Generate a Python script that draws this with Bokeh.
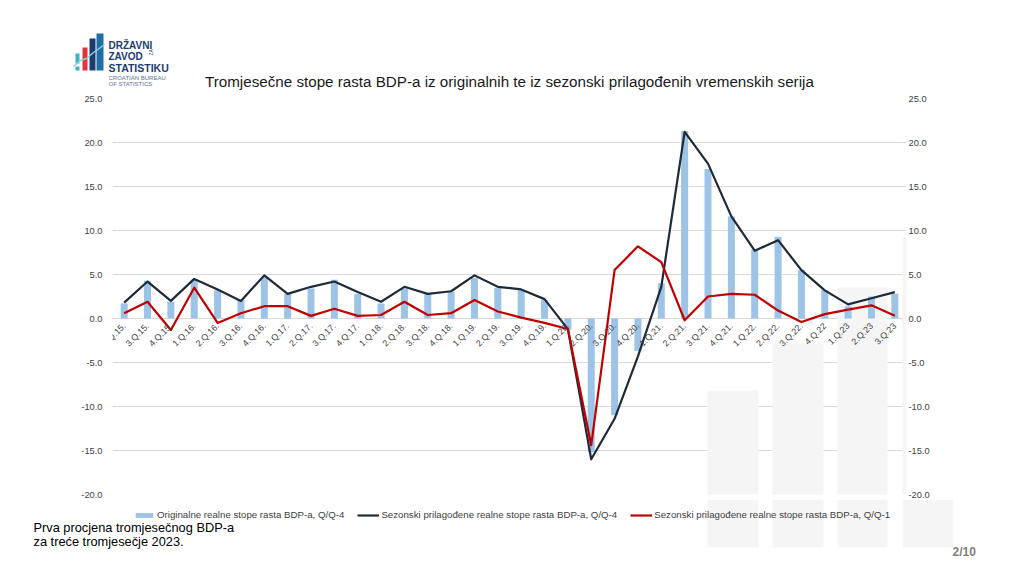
import math
from bokeh.plotting import figure
from bokeh.layouts import column
from bokeh.models import (FactorRange, Range1d, LinearAxis, FixedTicker, PrintfTickFormatter,
                          Legend, LegendItem, BoxAnnotation, ColumnDataSource)
from bokeh.core.properties import value
from bokeh.embed import file_html
from bokeh.resources import INLINE

# ---------------- data ----------------
quarters = ["2.Q.15.", "3.Q.15.", "4.Q.15.", "1.Q.16.", "2.Q.16.", "3.Q.16.", "4.Q.16.",
            "1.Q.17.", "2.Q.17.", "3.Q.17.", "4.Q.17.", "1.Q.18.", "2.Q.18.", "3.Q.18.",
            "4.Q.18.", "1.Q.19.", "2.Q.19.", "3.Q.19.", "4.Q.19.", "1.Q.20.", "2.Q.20.",
            "3.Q.20.", "4.Q.20.", "1.Q.21.", "2.Q.21.", "3.Q.21.", "4.Q.21.", "1.Q.22.",
            "2.Q.22.", "3.Q.22.", "4.Q.22", "1.Q.23", "2.Q.23", "3.Q.23"]

original_yoy = [1.7, 4.3, 1.9, 4.4, 3.2, 2.1, 4.7, 2.8, 3.4, 4.4, 2.8, 1.7, 3.4, 2.8, 3.0,
                4.6, 3.5, 3.2, 2.1, -1.3, -15.2, -11.0, -3.7, 4.0, 21.3, 17.0, 11.6, 7.8,
                9.3, 5.5, 3.2, 1.4, 2.5, 2.8]

sa_yoy = [1.8, 4.2, 2.0, 4.5, 3.3, 2.0, 4.9, 2.8, 3.6, 4.2, 3.0, 1.9, 3.6, 2.8, 3.1,
          4.9, 3.6, 3.3, 2.2, -1.2, -16.0, -11.4, -4.3, 3.6, 21.2, 17.6, 11.6, 7.7,
          8.9, 5.5, 3.2, 1.6, 2.3, 3.0]

sa_qoq = [0.6, 1.9, -1.3, 3.5, -0.5, 0.6, 1.4, 1.4, 0.3, 1.1, 0.3, 0.4, 1.9, 0.4, 0.6,
          2.1, 0.8, 0.1, -0.5, -1.2, -14.4, 5.5, 8.2, 6.4, -0.2, 2.5, 2.8, 2.7,
          0.9, -0.4, 0.5, 1.0, 1.5, 0.3]

y_ticks = [-20, -15, -10, -5, 0, 5, 10, 15, 20, 25]

title_text = "Tromjesečne stope rasta BDP-a iz  originalnih te iz sezonski prilagođenih vremenskih serija"
legend_labels = ["Originalne realne stope rasta BDP-a, Q/Q-4",
                 "Sezonski prilagođene realne stope rasta BDP-a, Q/Q-4",
                 "Sezonski prilagođene realne stope rasta BDP-a, Q/Q-1"]
logo_lines = ["DRŽAVNI", "ZAVOD", "STATISTIKU"]
logo_small = ["CROATIAN BUREAU", "OF STATISTICS"]
footer_lines = ["Prva procjena tromjesečnog BDP-a", "za treće tromjesečje 2023."]
page_text = "2/10"

FONT = "Liberation Sans"
BAR_C = "#9dc3e6"
NAVY_C = "#1f2a38"
RED_C = "#c00000"
WM_C = "#f5f5f5"
W = 1008

def no_align(f):
    if "frame_align" in f.properties():
        f.frame_align = False

def blank(h):
    f = figure(width=W, height=h, x_range=Range1d(0, W), y_range=Range1d(h, 0),
               min_border=0, x_axis_location=None, y_axis_location=None,
               toolbar_location=None, output_backend="svg")
    f.outline_line_color = None
    f.grid.visible = False
    no_align(f)
    return f

def txt(f, x, y, s, size, color="#000000", style="normal", align="left", angle=0.0):
    f.text(x=[x], y=[y], text=[s], text_font=value(FONT), text_font_size=size,
           text_color=color, text_font_style=style, text_align=align,
           text_baseline="alphabetic", angle=angle)

# ---------------- header: logo + title ----------------
HEAD_H = 94
head = blank(HEAD_H)
head.quad(left=[75, 75, 82, 89, 96], right=[79, 79, 87, 95, 103],
          top=[53, 66, 47, 38, 33], bottom=[63, 70, 70, 70, 70],
          fill_color=["#3ab3c6", "#3ab3c6", "#e0353f", "#1d3c6e", "#1f6fa5"], line_color=None)
head.line(x=[73, 80, 86, 93, 100, 104], y=[66, 60, 58, 52, 47, 44], line_color="#8fd0e0",
          line_width=1.5)
txt(head, 108, 45, logo_lines[0], "10px", "#1d3c6e", "bold")
txt(head, 108, 56, logo_lines[1], "10px", "#1d3c6e", "bold")
txt(head, 150, 55, "ZA", "5px", "#1d3c6e", angle=math.pi / 2)
txt(head, 108, 67, logo_lines[2], "10.5px", "#1d3c6e", "bold")
txt(head, 108, 77, logo_small[0], "6px", "#5a6f94")
txt(head, 108, 83, logo_small[1], "6px", "#5a6f94")
txt(head, 511, 81, title_text, "15.2px", "#1a1a1a", align="center")

# ---------------- main chart ----------------
src = ColumnDataSource(dict(q=quarters, orig=original_yoy, sa4=sa_yoy, sa1=sa_qoq))

p = figure(width=W, height=405,
           x_range=FactorRange(factors=quarters, range_padding=0),
           y_range=Range1d(-20, 25),
           output_backend="svg", toolbar_location=None,
           min_border_left=112, min_border_right=102, min_border_top=4, min_border_bottom=5,
           x_axis_location="below", y_axis_location="left")
p.outline_line_color = None
no_align(p)

# faint watermark bars (screen units relative to frame)
for l, r, t in [(595, 646, 104), (660, 711, 151), (725, 775, 207), (790, 841, 257)]:
    p.add_layout(BoxAnnotation(left=l, right=r, top=t, bottom=-10,
                               left_units="screen", right_units="screen",
                               top_units="screen", bottom_units="screen",
                               fill_color=WM_C, fill_alpha=1.0, line_color=None,
                               level="underlay"))

p.xgrid.visible = False
p.ygrid.ticker = FixedTicker(ticks=y_ticks)
p.ygrid.grid_line_color = "#d9d9d9"
p.ygrid.grid_line_width = 1

p.vbar(x="q", top="orig", width=0.3, source=src, fill_color=BAR_C, line_color=None)
p.line(x="q", y="sa4", source=src, line_color=NAVY_C, line_width=2.2, line_join="round")
p.line(x="q", y="sa1", source=src, line_color=RED_C, line_width=2.2, line_join="round")

# category axis placed on the zero line
xa = p.xaxis[0]
xa.fixed_location = 0
xa.major_label_orientation = math.pi / 4
xa.axis_line_color = None
xa.major_tick_line_color = None
xa.minor_tick_line_color = None
xa.major_tick_out = 0
xa.major_tick_in = 0
xa.major_label_standoff = 6
xa.major_label_text_font = FONT
xa.major_label_text_font_size = "8.8px"
xa.major_label_text_color = "#404040"

def style_y(ax, standoff):
    ax.ticker = FixedTicker(ticks=y_ticks)
    ax.formatter = PrintfTickFormatter(format="%.1f")
    ax.axis_line_color = None
    ax.major_tick_line_color = None
    ax.minor_tick_line_color = None
    ax.major_tick_out = 0
    ax.major_tick_in = 0
    ax.major_label_standoff = standoff
    ax.major_label_text_font = FONT
    ax.major_label_text_font_size = "9.3px"
    ax.major_label_text_color = "#404040"

style_y(p.yaxis[0], 10)
ra = LinearAxis()
style_y(ra, 2)
p.add_layout(ra, "right")

# ---------------- footer: legend + notes ----------------
FOOT_H = 61
foot = blank(FOOT_H)
foot.quad(left=[707, 772, 837, 902], right=[758, 823, 887, 953], top=[0] * 4, bottom=[48] * 4,
          fill_color=WM_C, line_color=None)
# legend proxies (kept outside the visible area)
lb = foot.vbar(x=[-100], top=[-100], width=1, fill_color=BAR_C, line_color=None)
ln = foot.line(x=[-200, -150], y=[-10, -10], line_color=NAVY_C, line_width=2.2)
lr = foot.line(x=[-200, -150], y=[-20, -20], line_color=RED_C, line_width=2.2)
legend = Legend(items=[LegendItem(label=legend_labels[0], renderers=[lb]),
                       LegendItem(label=legend_labels[1], renderers=[ln]),
                       LegendItem(label=legend_labels[2], renderers=[lr])],
                orientation="horizontal", location=(133, 40),
                border_line_color=None, background_fill_alpha=0,
                label_text_font=FONT, label_text_font_size="9.7px", label_text_color="#404040",
                glyph_width=22, glyph_height=6, label_height=10, label_standoff=2,
                spacing=13, padding=6, margin=0)
foot.add_layout(legend, "center")
txt(foot, 33, 28, footer_lines[0], "12.8px", "#000000")
txt(foot, 33, 42, footer_lines[1], "12.8px", "#000000")
txt(foot, 952, 52, page_text, "12px", "#808080", "bold")

layout = column(head, p, foot, spacing=0)
open("out.html", "w").write(file_html(layout, INLINE))
